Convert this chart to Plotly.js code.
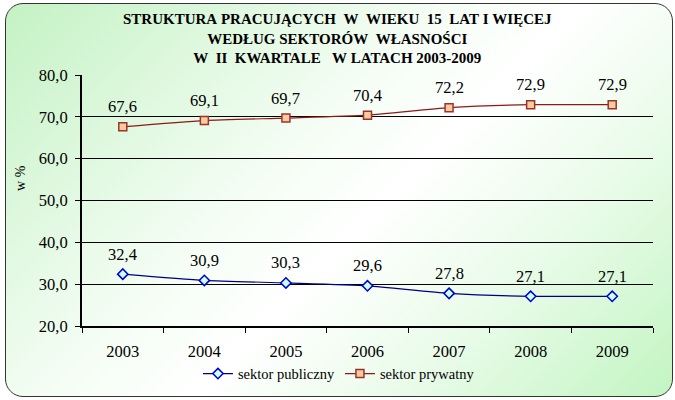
<!DOCTYPE html>
<html>
<head>
<meta charset="utf-8">
<script src="https://cdn.plot.ly/plotly-3.0.1.min.js"></script>
<style>
  html, body { margin: 0; padding: 0; background: #fff; }
  #frame {
    position: absolute; left: 5px; top: 3px; width: 666px; height: 392px;
    border: 1.5px solid #333; border-radius: 18px; overflow: hidden;
    background: linear-gradient(135deg, #c4f2c4 0%, #f4fdf4 40%, #ffffff 55%, #e8fbe8 75%, #c2f5c2 100%);
  }
  #chart { position: absolute; left: 0; top: 0; width: 675px; height: 400px; }
</style>
</head>
<body>
<div id="frame"></div>
<div id="chart"></div>
<script>
const years = ['2003', '2004', '2005', '2006', '2007', '2008', '2009']
const publiczny = [32.4, 30.9, 30.3, 29.6, 27.8, 27.1, 27.1]
const prywatny = [67.6, 69.1, 69.7, 70.4, 72.2, 72.9, 72.9]
const yTicks = [20, 30, 40, 50, 60, 70, 80]

const fmt = v => v.toFixed(1).replace('.', ',')
const serif = 'Liberation Serif'
const nb = s => s.replace(/ /g, '\u00a0')

const data = [
  {
    type: 'scatter', mode: 'lines+markers', name: 'sektor publiczny',
    x: years, y: publiczny,
    line: {color: '#000080', width: 1.2, shape: 'spline', smoothing: 0.6},
    marker: {symbol: 'diamond', size: 8, color: '#ccffff', line: {color: '#0000cc', width: 1.5}}
  },
  {
    type: 'scatter', mode: 'lines+markers', name: 'sektor prywatny',
    x: years, y: prywatny,
    line: {color: '#8b1a1a', width: 1.2, shape: 'spline', smoothing: 0.6},
    marker: {symbol: 'square', size: 8, color: '#ffcc99', line: {color: '#993333', width: 1.5}}
  }
]

// value labels over the points (category axis -> use the index)
const annotations = []
for (let i = 0; i < years.length; i++) {
  for (const arr of [publiczny, prywatny]) {
    annotations.push({
      x: i, y: arr[i], text: fmt(arr[i]), showarrow: false,
      yshift: 20, font: {family: serif, size: 16.5, color: '#000'}
    })
  }
}
annotations.push({
  xref: 'paper', yref: 'paper', x: 0.448, y: 1, yshift: 66,
  xanchor: 'center', yanchor: 'top', showarrow: false, align: 'center',
  text: '<b>' + nb('STRUKTURA PRACUJĄCYCH  W  WIEKU  15  LAT I WIĘCEJ') + '<br>' +
        nb('WEDŁUG SEKTORÓW  WŁASNOŚCI') + '<br>' +
        nb('W  II  KWARTALE   W LATACH 2003-2009') + '</b>',
  font: {family: serif, size: 15, color: '#000'}
})
annotations.push({
  xref: 'paper', yref: 'paper', x: 0, xshift: -61, y: 0.59,
  xanchor: 'center', textangle: -90, showarrow: false, text: 'w %',
  font: {family: serif, size: 14, color: '#000'}
})

const layout = {
  width: 675, height: 400,
  margin: {l: 82, r: 22, t: 75, b: 73},
  paper_bgcolor: 'rgba(0,0,0,0)',
  plot_bgcolor: 'rgba(0,0,0,0)',
  font: {family: serif, size: 15, color: '#000'},
  showlegend: true,
  legend: {
    orientation: 'h', x: 0.45, xanchor: 'center', y: -0.185, yanchor: 'middle',
    font: {family: serif, size: 14.5, color: '#000'}, bgcolor: 'rgba(0,0,0,0)'
  },
  xaxis: {
    type: 'category', range: [-0.5, 6.5],
    showline: true, linecolor: '#000', linewidth: 2,
    ticks: 'outside', tickson: 'boundaries', ticklen: 5, tickcolor: '#000', tickwidth: 1,
    ticklabelstandoff: 9,
    showgrid: false, zeroline: false,
    tickfont: {family: serif, size: 16.5, color: '#000'}
  },
  yaxis: {
    range: [20, 80],
    tickvals: yTicks, ticktext: yTicks.map(fmt),
    showline: true, linecolor: '#000', linewidth: 2,
    ticks: 'outside', ticklen: 5, tickcolor: '#000',
    ticklabelstandoff: 4,
    showgrid: true, gridcolor: '#000', gridwidth: 1, zeroline: false,
    tickfont: {family: serif, size: 16.5, color: '#000'}
  },
  annotations: annotations
}

Plotly.newPlot('chart', data, layout, {displayModeBar: false, staticPlot: true})
</script>
</body>
</html>
